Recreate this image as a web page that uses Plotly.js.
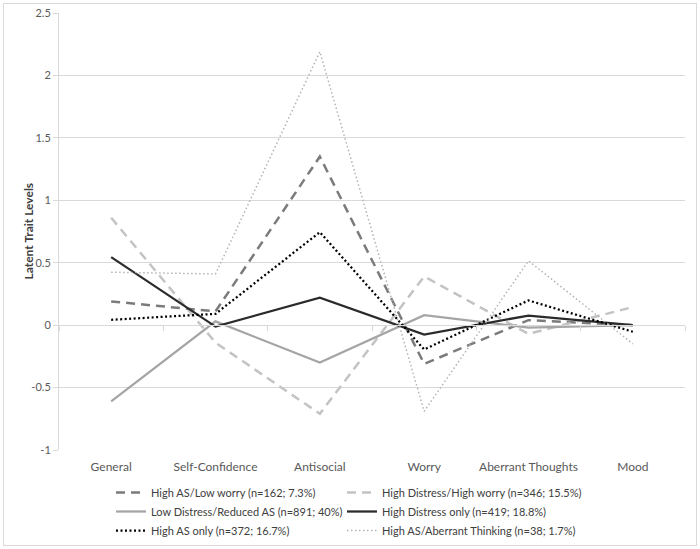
<!DOCTYPE html>
<html>
<head>
<meta charset="utf-8">
<script src="https://cdn.plot.ly/plotly-3.0.1.min.js"></script>
<style>
  html, body { margin: 0; padding: 0; background: #fff; }
  #wrap { position: relative; width: 700px; height: 549px; }
  #chart { position: absolute; left: 0; top: 0; width: 700px; height: 549px; }
  #frame { position: absolute; left: 3px; top: 3px; width: 692px; height: 541px; border: 1px solid #d9d9d9; pointer-events: none; }
</style>
</head>
<body>
<div id="wrap"><div id="chart"></div><div id="frame"></div></div>
<script>
const categories = ["General", "Self-Confidence", "Antisocial", "Worry", "Aberrant Thoughts", "Mood"];

const seriesNames = [
  "High AS/Low worry (n=162; 7.3%)",
  "High Distress/High worry (n=346; 15.5%)",
  "Low Distress/Reduced AS (n=891; 40%)",
  "High Distress only (n=419; 18.8%)",
  "High AS only (n=372; 16.7%)",
  "High AS/Aberrant Thinking (n=38; 1.7%)"
];

const highASLowWorry        = [0.19, 0.11, 1.35, -0.31, 0.04, 0.0];
const highDistressHighWorry = [0.86, -0.14, -0.71, 0.39, -0.07, 0.145];
const lowDistressReducedAS  = [-0.61, 0.03, -0.30, 0.08, -0.02, 0.0];
const highDistressOnly      = [0.545, -0.012, 0.22, -0.075, 0.077, 0.0];
const highASOnly            = [0.043, 0.09, 0.745, -0.195, 0.198, -0.053];
const highASAberrant        = [0.424, 0.41, 2.19, -0.69, 0.515, -0.15];

const yTicks = [-1, -0.5, 0, 0.5, 1, 1.5, 2, 2.5];
const yTitle = "Latent Trait Levels";

const values = [highASLowWorry, highDistressHighWorry, lowDistressReducedAS, highDistressOnly, highASOnly, highASAberrant];
const styles = [
  {color: "#7b7b7b", width: 2.5, dash: "9px,6px"},
  {color: "#c3c3c3", width: 2.5, dash: "9px,6px"},
  {color: "#a5a5a5", width: 2.25, dash: "solid"},
  {color: "#2b2b2b", width: 2.25, dash: "solid"},
  {color: "#000000", width: 2.25, dash: "2px,2.5px"},
  {color: "#b3b3b3", width: 1.5, dash: "1.5px,2.5px"}
];

const FONT = "Lato, 'Liberation Sans', sans-serif";

const traces = values.map((v, i) => ({
  type: "scatter",
  mode: "lines",
  x: categories,
  y: v,
  name: seriesNames[i],
  line: styles[i],
  legend: (i % 2 === 0) ? "legend" : "legend2",
  legendgroup: "g" + i,
  hoverinfo: "x+y+name"
}));

const tickBoundaries = [];
for (let k = 0; k <= categories.length; k++) tickBoundaries.push(k - 0.5);

// invisible helper trace so the category-boundary axis at y = 0 is drawn
traces.push({
  type: "scatter", mode: "lines",
  x: [tickBoundaries[0], tickBoundaries[tickBoundaries.length - 1]],
  y: [null, null],
  xaxis: "x2", yaxis: "y",
  showlegend: false, hoverinfo: "skip"
});

const legendCommon = {
  orientation: "v",
  xref: "container", xanchor: "left",
  y: 1 - 478 / 549, yref: "container", yanchor: "top",
  itemwidth: 30, tracegroupgap: 0,
  font: {family: FONT, size: 11, color: "#404040"},
  bgcolor: "rgba(0,0,0,0)", borderwidth: 0
};

const layout = {
  width: 700, height: 549,
  margin: {l: 59, r: 15, t: 13, b: 99, autoexpand: false},
  paper_bgcolor: "#ffffff",
  plot_bgcolor: "#ffffff",
  font: {family: FONT, size: 12, color: "#595959"},
  showlegend: true,
  xaxis: {
    type: "category",
    range: [-0.5, categories.length - 0.5],
    autorange: false,
    showgrid: false, zeroline: false, showline: false,
    ticks: "", tickangle: 0, ticklabelstandoff: 8,
    tickfont: {family: FONT, size: 12, color: "#595959"}
  },
  xaxis2: {
    type: "linear",
    overlaying: "x",
    anchor: "free",
    position: 1 / 3.5,
    range: [-0.5, categories.length - 0.5],
    autorange: false,
    showgrid: false, zeroline: false,
    showline: true, linecolor: "#d9d9d9", linewidth: 1,
    tickmode: "array", tickvals: tickBoundaries,
    ticks: "outside", ticklen: 5, tickcolor: "#d9d9d9",
    showticklabels: false
  },
  yaxis: {
    range: [-1, 2.5],
    autorange: false,
    tickmode: "array", tickvals: yTicks,
    ticktext: yTicks.map(String),
    showgrid: true, gridcolor: "#d9d9d9", gridwidth: 1,
    zeroline: false,
    showline: true, linecolor: "#d9d9d9", linewidth: 1,
    ticks: "outside", ticklen: 5, tickcolor: "#d9d9d9",
    tickfont: {family: FONT, size: 11, color: "#595959"}
  },
  annotations: [{
    text: "<b>" + yTitle + "</b>",
    xref: "paper", yref: "paper",
    x: -0.0495, y: 0.5,
    xanchor: "center", yanchor: "middle",
    textangle: -90, showarrow: false,
    font: {family: FONT, size: 12, color: "#404040"}
  }],
  legend: Object.assign({}, legendCommon, {x: 111 / 700}),
  legend2: Object.assign({}, legendCommon, {x: 342 / 700})
};

Plotly.newPlot("chart", traces, layout, {displayModeBar: false, staticPlot: true});
</script>
</body>
</html>
